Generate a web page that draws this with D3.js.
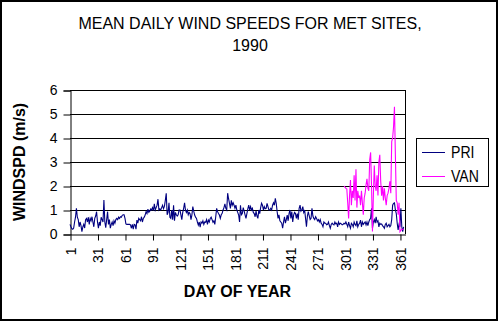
<!DOCTYPE html>
<html><head><meta charset="utf-8">
<script src="https://cdn.jsdelivr.net/npm/d3@7"></script>
<style>
body{margin:0;background:#fff;}
svg text{font-family:"Liberation Sans",Arial,sans-serif;fill:#000;}
</style></head>
<body><svg id="c" width="499" height="323"></svg>
<script>
const titleLines = ["MEAN DAILY WIND SPEEDS FOR MET SITES,", "1990"];
const xTitle = "DAY OF YEAR";
const yTitle = "WINDSPD (m/s)";
const seriesNames = ["PRI", "VAN"];
const seriesColors = ["#000080", "#FF00FF"];
const xTickDays = [1,31,61,91,121,151,181,211,241,271,301,331,361];
const yTickValues = [0,1,2,3,4,5,6];
const priStartDay = 1;
const priValues = [
0.4,0.3,0.22,0.2,0.25,0.5,0.7,1.07,0.7,0.6,
0.3,0.5,0.35,0.1,0.3,0.4,0.25,0.6,0.65,0.5,
0.7,0.4,0.65,0.55,0.72,0.5,0.3,0.65,0.75,0.93,
0.5,0.24,0.5,0.35,0.7,0.6,0.5,1.42,0.5,0.26,
0.6,0.93,0.4,0.6,0.24,0.4,0.5,0.35,0.55,0.45,
0.6,0.65,0.6,0.7,0.65,0.72,0.7,0.78,0.8,0.8,
0.65,0.42,0.4,0.4,0.4,0.4,0.38,0.24,0.4,0.2,
0.4,0.38,0.2,0.58,0.45,0.65,0.6,0.55,0.72,0.5,
0.65,0.7,0.79,0.93,0.85,1.04,0.9,0.95,1.04,1.0,
1.1,0.98,1.26,1.0,1.1,1.2,1.45,1.0,1.05,1.0,
1.1,1.2,1.05,1.15,1.4,1.7,0.8,0.9,1.3,0.7,
0.65,1.0,0.6,1.2,0.55,0.9,0.8,0.75,0.8,1.0,
1.0,0.8,0.6,0.9,1.07,1.3,1.0,0.9,1.0,0.8,
0.9,0.85,0.6,0.8,1.14,0.95,0.79,0.7,0.65,0.5,
0.37,0.5,0.28,0.5,0.45,0.55,0.4,0.5,0.49,0.6,
0.4,0.58,0.5,0.65,0.7,0.6,0.49,0.55,0.4,0.72,
1.07,0.93,0.85,0.79,0.65,0.8,0.86,1.0,1.1,1.26,
1.07,1.0,1.7,1.47,1.28,1.07,1.4,1.2,1.3,1.2,
1.07,1.2,1.0,0.9,0.79,0.5,1.2,0.8,0.85,1.1,
0.95,0.8,0.65,0.85,1.05,1.2,1.0,1.14,1.0,1.07,
0.9,0.85,0.72,0.95,0.75,0.65,1.0,0.85,1.1,1.28,
1.2,1.0,1.14,1.05,1.07,1.28,1.14,1.0,1.0,1.07,
1.0,1.2,1.3,1.2,1.49,1.28,0.93,0.65,0.8,0.55,
0.5,0.45,0.24,0.5,0.72,0.45,0.6,0.79,0.55,0.85,
1.0,0.65,0.93,0.5,0.79,0.9,0.85,0.65,0.85,0.6,
1.07,1.2,0.95,1.0,1.14,0.9,1.0,0.65,0.3,0.75,
0.93,0.75,0.6,0.65,1.07,0.75,0.65,0.6,0.72,0.65,
0.55,0.6,0.5,0.6,0.45,0.4,0.3,0.5,0.45,0.45,
0.38,0.4,0.5,0.35,0.24,0.4,0.45,0.4,0.38,0.5,
0.42,0.45,0.3,0.5,0.4,0.45,0.42,0.38,0.4,0.45,
0.42,0.5,0.4,0.3,0.5,0.35,0.24,0.45,0.4,0.3,
0.5,0.4,0.35,0.55,0.3,0.4,0.45,0.58,0.3,0.5,
0.4,0.45,0.5,0.38,0.5,0.35,0.5,0.6,0.65,1.07,
0.24,0.5,0.6,0.45,0.72,0.5,0.55,0.3,0.45,0.4,
0.42,0.35,0.3,0.24,0.4,0.45,0.3,0.35,0.4,0.3,
0.35,0.6,1.2,1.28,1.3,1.0,0.85,0.45,0.17,0.4,
0.3,1.07,0.3,0.1,0.3
];
const vanStartDay = 300;
const vanValues = [
2.0,1.95,1.9,1.88,1.3,0.65,1.6,2.25,1.2,1.8,
1.5,2.45,1.4,2.7,1.1,1.8,1.5,1.6,1.2,1.8,
1.3,0.8,1.5,1.7,2.05,2.3,1.9,1.8,3.1,3.4,
2.0,0.1,1.6,2.85,2.0,1.8,2.45,1.6,3.0,3.3,
2.2,1.6,2.0,1.4,1.9,1.5,1.2,1.6,1.7,1.9,
2.2,1.7,3.85,4.0,4.47,5.3,3.3,1.4,1.3,0.8,
1.3,0.1,0.15,0.2,0.2,0.2
];

const svg = d3.select("#c");
const plot = {left:70, right:405, top:90, bottom:234};
const x = d3.scaleLinear().domain([1, 366.5]).range([plot.left, plot.right]);
const y = d3.scaleLinear().domain([0, 6]).range([plot.bottom, plot.top]);

// outer border
svg.append("rect").attr("x",1).attr("y",1).attr("width",496).attr("height",319)
  .attr("fill","#fff").attr("stroke","#000").attr("stroke-width",2);

// title
svg.append("text").attr("x",250).attr("text-anchor","middle")
  .style("font-size","16px")
  .selectAll("tspan").data(titleLines).join("tspan")
  .attr("x",250).attr("y",(d,i)=>29+i*22).text(d=>d);

// gridlines
svg.append("g").selectAll("line").data(yTickValues.filter(v=>v>0)).join("line")
  .attr("x1",plot.left).attr("x2",plot.right)
  .attr("y1",d=>Math.round(y(d))+0.5).attr("y2",d=>Math.round(y(d))+0.5)
  .attr("stroke","#000").attr("stroke-width",1);
// plot right border
svg.append("line").attr("x1",plot.right+0.5).attr("x2",plot.right+0.5)
  .attr("y1",plot.top).attr("y2",plot.bottom).attr("stroke","#000");

// y axis
const yAxis = svg.append("g").attr("transform",`translate(${plot.left+0.5},0.5)`)
  .call(d3.axisLeft(y).tickValues(yTickValues).tickSize(7).tickPadding(6).tickFormat(d3.format("d")));
yAxis.select(".domain").attr("stroke","#000");
yAxis.selectAll("text").style("font-size","14px").attr("font-family",null);

// x axis
const xAxis = svg.append("g").attr("transform",`translate(0.5,${plot.bottom+0.5})`)
  .call(d3.axisBottom(x).tickValues(xTickDays).tickSize(6).tickSizeOuter(0).tickFormat(d3.format("d")));
xAxis.select(".domain").attr("stroke","#000");
xAxis.selectAll("text").style("font-size","14px").attr("font-family",null)
  .attr("text-anchor","end").attr("transform","rotate(-90)")
  .attr("x",-13).attr("y",0).attr("dy","0.35em");

// axis titles
svg.append("text").attr("x",(plot.left+plot.right)/2).attr("y",297).attr("text-anchor","middle")
  .style("font-size","16px").style("font-weight","bold").text(xTitle);
svg.append("text").attr("transform","translate(25,162) rotate(-90)").attr("text-anchor","middle")
  .style("font-size","16px").style("font-weight","bold").text(yTitle);

// lines
const line = d3.line().x(d=>x(d.day)).y(d=>y(d.v));
const pri = priValues.map((v,i)=>({day:priStartDay+i, v}));
const van = vanValues.map((v,i)=>({day:vanStartDay+i, v}));
svg.append("path").datum(pri).attr("d",line).attr("fill","none").attr("stroke",seriesColors[0]).attr("stroke-width",1.1);
svg.append("path").datum(van).attr("d",line).attr("fill","none").attr("stroke",seriesColors[1]).attr("stroke-width",1.1);

// legend
const lg = svg.append("g");
lg.append("rect").attr("x",416.5).attr("y",138.5).attr("width",72).attr("height",48)
  .attr("fill","#fff").attr("stroke","#000");
seriesNames.forEach((n,i)=>{
  const yy = 152 + i*24;
  lg.append("line").attr("x1",422).attr("x2",445).attr("y1",yy+0.5).attr("y2",yy+0.5)
    .attr("stroke",seriesColors[i]).attr("stroke-width",1);
  lg.append("text").attr("transform",`translate(451,${yy+5.5}) scale(0.88,1)`)
    .style("font-size","16px").text(n);
});
</script></body></html>
